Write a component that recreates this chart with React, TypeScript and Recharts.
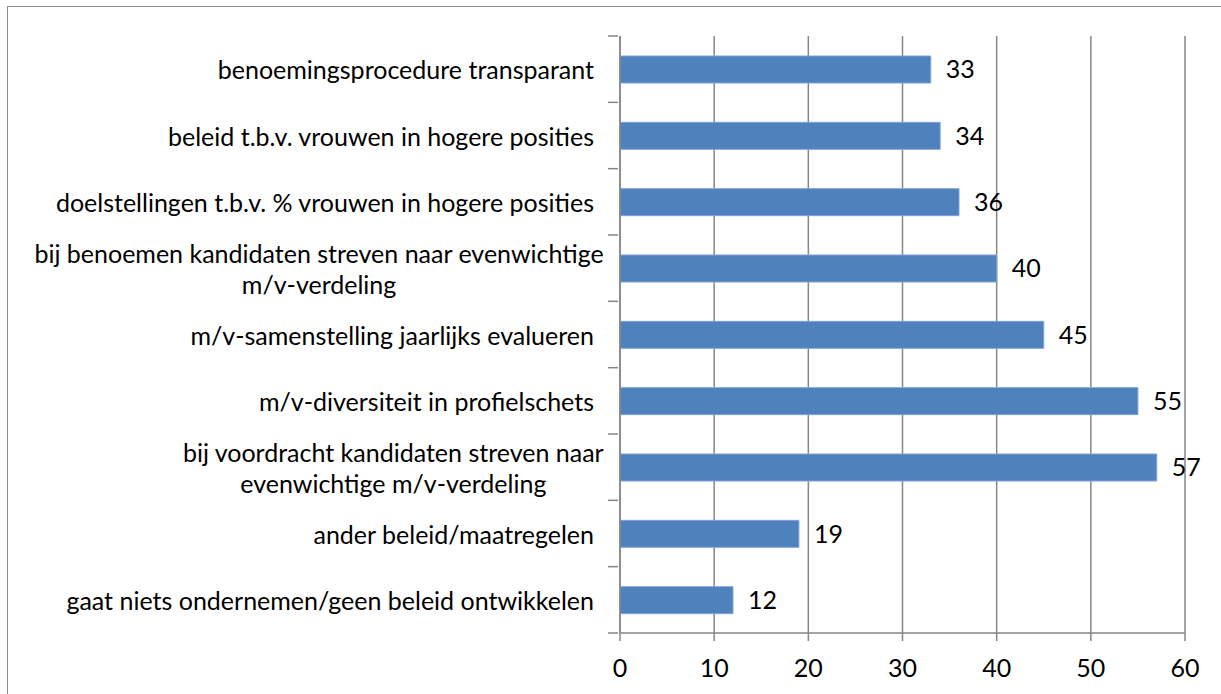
import React from "react";
import {
  BarChart,
  Bar,
  XAxis,
  YAxis,
  CartesianGrid,
  LabelList
} from "recharts";

const categories: string[][] = [
  ["benoemingsprocedure transparant"],
  ["beleid t.b.v. vrouwen in hogere posities"],
  ["doelstellingen t.b.v. % vrouwen in hogere posities"],
  ["bij benoemen kandidaten streven naar evenwichtige", "m/v-verdeling"],
  ["m/v-samenstelling jaarlijks evalueren"],
  ["m/v-diversiteit in profielschets"],
  ["bij voordracht kandidaten streven naar", "evenwichtige m/v-verdeling"],
  ["ander beleid/maatregelen"],
  ["gaat niets ondernemen/geen beleid ontwikkelen"]
];
const values: number[] = [33, 34, 36, 40, 45, 55, 57, 19, 12];
const xTicks: number[] = [0, 10, 20, 30, 40, 50, 60];

const data = categories.map((c, i) => ({ name: c.join("|"), value: values[i] }));

const FONT = "Lato, 'Open Sans', sans-serif";
const FONT_SIZE = 25;
const CHART_W = 1213;
const CHART_H = 687;
const MARGIN = { top: 29, right: 36, bottom: 11, left: 0 };
const X_AXIS_H = 50;
const BAND = (CHART_H - MARGIN.top - MARGIN.bottom - X_AXIS_H) / categories.length;

let ctx: CanvasRenderingContext2D | null = null;
function textWidth(s: string): number {
  if (!ctx) ctx = document.createElement("canvas").getContext("2d");
  if (!ctx) return s.length * 12;
  ctx.font = `${FONT_SIZE}px Lato`;
  return ctx.measureText(s).width;
}

function CategoryTick(props: any) {
  const { x, y, payload, index } = props;
  const lines: string[] = String(payload.value).split("|");
  const axisX = x + 8;
  const top = y - BAND / 2;
  const tickMarks = [top];
  if (index === categories.length - 1) tickMarks.push(y + BAND / 2);
  let text;
  if (lines.length === 1) {
    text = (
      <text x={x - 16} y={y} textAnchor="end" dominantBaseline="central"
        fontFamily={FONT} fontSize={FONT_SIZE} fill="#000">
        {lines[0]}
      </text>
    );
  } else {
    const w = Math.max(...lines.map(textWidth));
    const cx = x - 6 - w / 2;
    text = (
      <text textAnchor="middle" fontFamily={FONT} fontSize={FONT_SIZE} fill="#000">
        {lines.map((l, i) => (
          <tspan key={i} x={cx} y={y + (i - (lines.length - 1) / 2) * 31} dominantBaseline="central">
            {l}
          </tspan>
        ))}
      </text>
    );
  }
  return (
    <g>
      {tickMarks.map((ty, i) => (
        <line key={i} x1={axisX - 10} x2={axisX} y1={ty} y2={ty} stroke="#868686" strokeWidth={1.5} />
      ))}
      {text}
    </g>
  );
}

export default function App() {
  return (
    <div
      style={{
        position: "absolute",
        left: 7,
        top: 6,
        width: 1240,
        height: 720,
        border: "1.5px solid #8c8c8c",
        background: "#fff"
      }}
    >
      <BarChart
        width={CHART_W}
        height={CHART_H}
        data={data}
        layout="vertical"
        margin={MARGIN}
        barSize={27}
      >
        <CartesianGrid horizontal={false} stroke="#868686" strokeWidth={1.5} />
        <XAxis
          type="number"
          domain={[0, 60]}
          ticks={xTicks}
          interval={0}
          height={X_AXIS_H}
          axisLine={{ stroke: "#868686", strokeWidth: 1.5 }}
          tickLine={{ stroke: "#868686", strokeWidth: 1.5 }}
          tickSize={8}
          tick={{ fontFamily: FONT, fontSize: FONT_SIZE, fill: "#000", dy: 16 }}
        />
        <YAxis
          type="category"
          dataKey="name"
          width={612}
          interval={0}
          axisLine={{ stroke: "#868686", strokeWidth: 1.5 }}
          tickLine={false}
          tickSize={8}
          tick={<CategoryTick />}
        />
        <Bar dataKey="value" fill="#4F81BD" stroke="#7FA3D6" strokeWidth={1} isAnimationActive={false}>
          <LabelList
            dataKey="value"
            position="right"
            offset={15}
            fill="#000"
            fontFamily={FONT}
            fontSize={FONT_SIZE}
          />
        </Bar>
      </BarChart>
    </div>
  );
}
